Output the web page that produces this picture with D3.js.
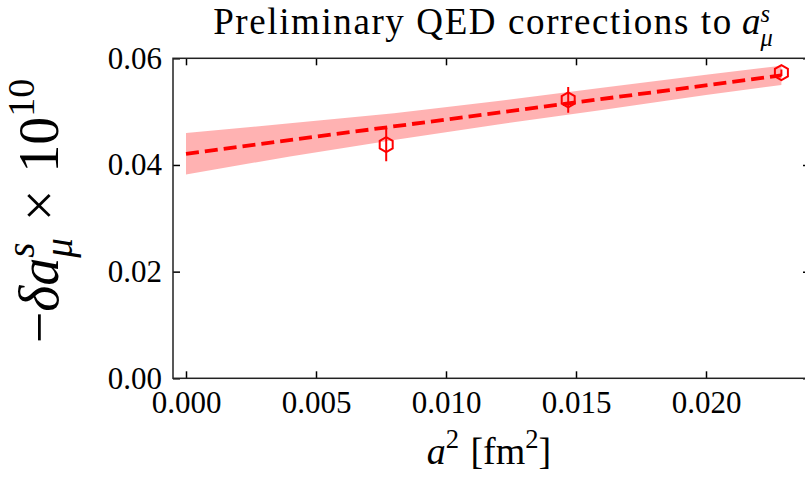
<!DOCTYPE html>
<html>
<head>
<meta charset="utf-8">
<script src="https://cdn.jsdelivr.net/npm/d3@7.9.0/dist/d3.min.js"></script>
<style>
  body { margin: 0; background: #fff; }
  svg text { font-family: "Liberation Serif", "DejaVu Serif", serif; fill: #000; }
</style>
</head>
<body>
<svg id="chart" width="805" height="477"></svg>
<script>
// data
const a2 = [0.0077, 0.0147, 0.0229];
const dAmu = [0.0438, 0.0522, 0.0573];
const dAmuErr = [0.0031, 0.0024, 0.0006];

// fit band (lower / upper edge) and central fit line
const bandX = [0, 0.004, 0.008, 0.012, 0.016, 0.020, 0.0229];
const bandLo = [0.0382, 0.0416, 0.0447, 0.0476, 0.0503, 0.0531, 0.0550];
const bandHi = [0.0460, 0.0478, 0.0497, 0.0520, 0.0545, 0.0569, 0.0586];
const fitX = [0, 0.0229];
const fitY = [0.0421, 0.0568];

const xTicks = [0, 0.005, 0.010, 0.015, 0.020];
const yTicks = [0, 0.02, 0.04, 0.06];

const svg = d3.select("#chart");
let margin = { top: 58.3, right: 810, bottom: 378.3, left: 173 };
let red = "#ff0000";

let x = d3.scaleLinear().domain([-0.0005, 0.024]).range([margin.left, margin.right]);
let y = d3.scaleLinear().domain([0, 0.06]).range([margin.bottom, margin.top]);

svg.append("clipPath").attr("id", "clip")
  .append("rect")
  .attr("x", margin.left).attr("y", margin.top)
  .attr("width", margin.right - margin.left).attr("height", margin.bottom - margin.top);

let plot = svg.append("g").attr("clip-path", "url(#clip)");

// fit band
let bandData = bandX.map((d, i) => ({ x: d, lo: bandLo[i], hi: bandHi[i] }));
let area = d3.area().x(d => x(d.x)).y0(d => y(d.lo)).y1(d => y(d.hi));
plot.append("path")
  .datum(bandData)
  .attr("fill", red)
  .attr("fill-opacity", 0.3)
  .attr("d", area);

// fit line
let line = d3.line().x(d => x(d[0])).y(d => y(d[1]));
plot.append("path")
  .datum(fitX.map((d, i) => [d, fitY[i]]))
  .attr("fill", "none")
  .attr("stroke", red)
  .attr("stroke-width", 3.8)
  .attr("stroke-dasharray", "13,6")
  .attr("d", line);

// error bars
let pts = a2.map((d, i) => ({ x: d, y: dAmu[i], e: dAmuErr[i] }));
plot.selectAll(".err")
  .data(pts)
  .enter().append("line")
  .attr("class", "err")
  .attr("x1", d => x(d.x)).attr("x2", d => x(d.x))
  .attr("y1", d => y(d.y - d.e)).attr("y2", d => y(d.y + d.e))
  .attr("stroke", red)
  .attr("stroke-width", 2);

// open hexagon markers
let hexR = 7.5;
let hex = d3.range(6).map(k => {
  let ang = Math.PI / 2 + k * Math.PI / 3;
  return [hexR * Math.cos(ang), hexR * Math.sin(ang)];
});
plot.selectAll(".pt")
  .data(pts)
  .enter().append("path")
  .attr("class", "pt")
  .attr("transform", d => `translate(${x(d.x)},${y(d.y)})`)
  .attr("d", "M" + hex.join("L") + "Z")
  .attr("fill", "none")
  .attr("stroke", red)
  .attr("stroke-width", 2);

// axes, ticks pointing inward on all four sides
let tickLen = 7;
let fmtX = d3.format(".3f");
let fmtY = d3.format(".2f");

let xAxis = svg.append("g")
  .attr("transform", `translate(0,${margin.bottom})`)
  .call(d3.axisBottom(x).tickValues(xTicks).tickFormat(fmtX).tickSizeInner(-tickLen).tickSizeOuter(0).tickPadding(13));
let xAxisTop = svg.append("g")
  .attr("transform", `translate(0,${margin.top})`)
  .call(d3.axisTop(x).tickValues(xTicks).tickFormat("").tickSizeInner(-tickLen).tickSizeOuter(0));
let yAxis = svg.append("g")
  .attr("transform", `translate(${margin.left},0)`)
  .call(d3.axisLeft(y).tickValues(yTicks).tickFormat(fmtY).tickSizeInner(-tickLen).tickSizeOuter(0).tickPadding(11));
let yAxisRight = svg.append("g")
  .attr("transform", `translate(${margin.right},0)`)
  .call(d3.axisRight(y).tickValues(yTicks).tickFormat("").tickSizeInner(-tickLen).tickSizeOuter(0));

[xAxis, xAxisTop, yAxis, yAxisRight].forEach(ax => {
  ax.select(".domain").remove();
  ax.selectAll(".tick line").attr("stroke", "#000").attr("stroke-width", 1.5);
  ax.selectAll("text").attr("font-family", null).attr("font-size", 31).attr("fill", "#000");
});

// frame
svg.append("rect")
  .attr("x", margin.left).attr("y", margin.top)
  .attr("width", margin.right - margin.left).attr("height", margin.bottom - margin.top)
  .attr("fill", "none")
  .attr("stroke", "#222")
  .attr("stroke-width", 1.5);

// lays out a bit of math text piece by piece, returns the total width
function mathText(g, pieces, size) {
  let cx = 0, prevStart = 0, prevW = 0;
  pieces.forEach(p => {
    let fs = size * (p.scale || 1);
    let start = p.over ? prevStart : cx + (p.gap || 0) * size;
    let t = g.append("text")
      .attr("font-size", fs)
      .attr("font-style", p.it ? "italic" : "normal")
      .attr("letter-spacing", p.ls || null)
      .attr("x", start)
      .attr("y", (p.dy || 0) * size)
      .text(p.t);
    let w = t.node().getComputedTextLength();
    cx = p.over ? start + Math.max(prevW, w) : start + w;
    prevStart = start;
    prevW = w;
  });
  return cx;
}

function centered(pieces, size, cx, cy, rotate) {
  let g = svg.append("g");
  let inner = g.append("g");
  let w = mathText(inner, pieces, size);
  inner.attr("transform", `translate(${-w / 2},0)`);
  g.attr("transform", `translate(${cx},${cy})` + (rotate ? ` rotate(${rotate})` : ""));
}

// title
centered([
  { t: "Preliminary QED corrections to", ls: 1.6 },
  { t: "a", it: true, gap: 0.25 },
  { t: "s", it: true, scale: 0.66, dy: -0.32 },
  { t: "μ", it: true, scale: 0.66, dy: 0.32, over: true }
], 37, 493, 34);

// x label
centered([
  { t: "a", it: true },
  { t: "2", scale: 0.7, dy: -0.42 },
  { t: "[fm", gap: 0.3 },
  { t: "2", scale: 0.7, dy: -0.42 },
  { t: "]" }
], 38, 489, 464);

// y label
centered([
  { t: "−" },
  { t: "δ", it: true },
  { t: "a", it: true },
  { t: "s", it: true, scale: 0.7, dy: -0.42 },
  { t: "μ", it: true, scale: 0.7, dy: 0.25, over: true },
  { t: "×", gap: 0.3 },
  { t: "10", gap: 0.3 },
  { t: "10", scale: 0.68, dy: -0.42 }
], 56, 58, 211, -90);
</script>
</body>
</html>
